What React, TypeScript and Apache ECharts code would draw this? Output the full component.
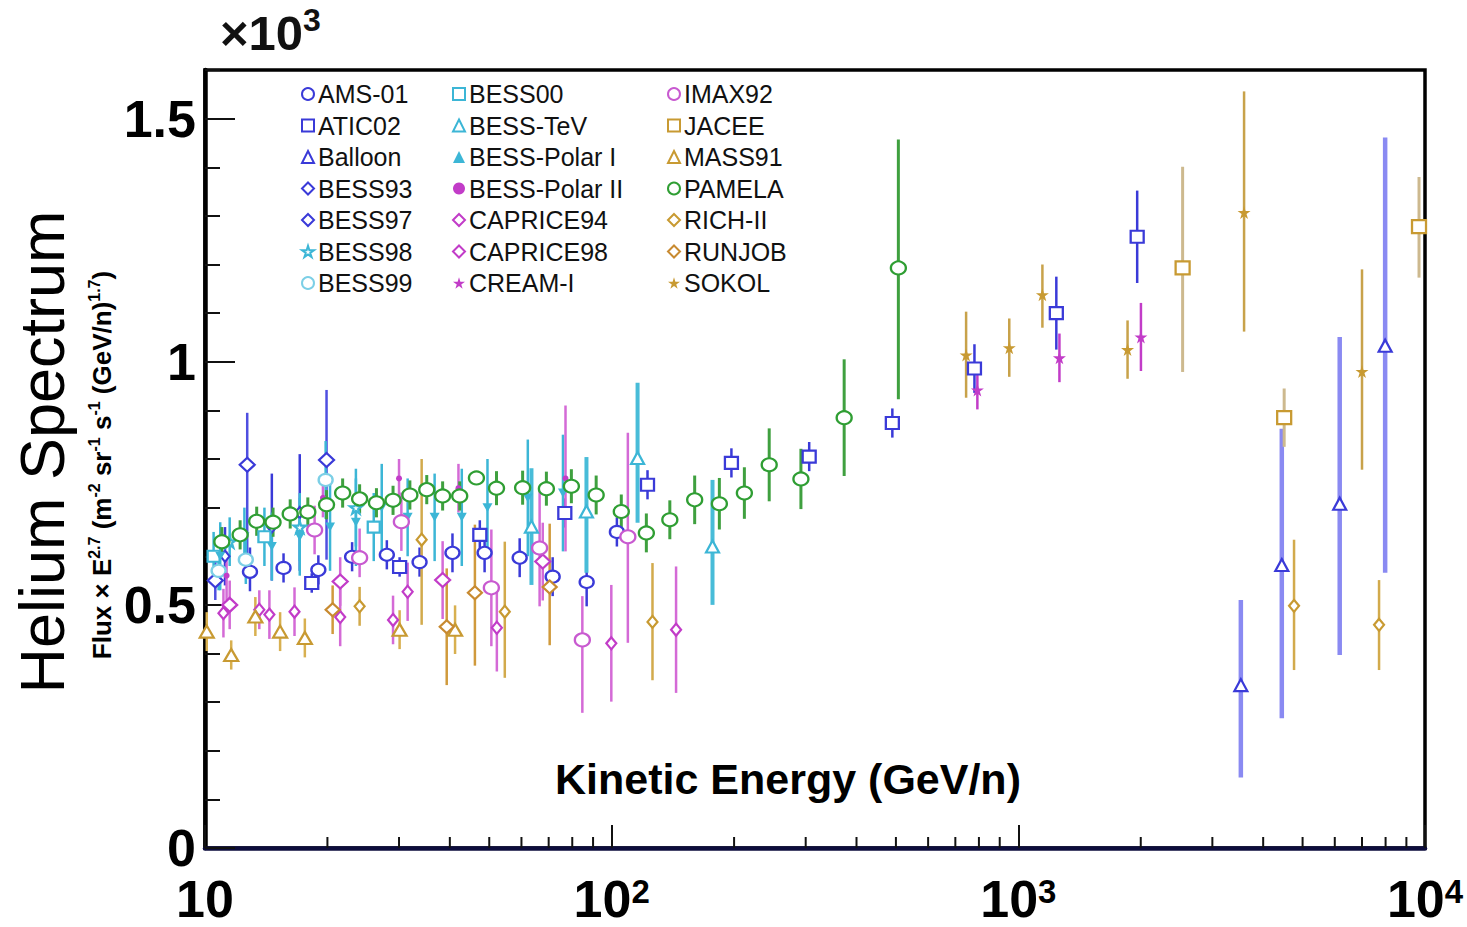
import React, { useEffect, useRef } from 'react';
import * as echarts from 'echarts';

// Each point: [kinetic energy (GeV/n), flux × E^2.7 (×10^3), error below, error above]
const AMS01 = [
  [12.9, 0.568, 0.04, 0.05], [15.6, 0.576, 0.03, 0.03], [19.0, 0.572, 0.03, 0.03],
  [23.0, 0.599, 0.03, 0.03], [28.0, 0.603, 0.03, 0.03], [33.7, 0.588, 0.03, 0.03],
  [40.6, 0.607, 0.04, 0.04], [48.7, 0.607, 0.04, 0.04], [59.4, 0.597, 0.04, 0.04],
  [71.6, 0.558, 0.04, 0.04], [86.8, 0.547, 0.05, 0.06], [103, 0.65, 0.03, 0.03],
];
const ATIC02 = [
  [18.3, 0.545, 0.02, 0.02], [30.1, 0.578, 0.02, 0.02], [47.4, 0.644, 0.03, 0.03],
  [76.7, 0.689, 0.03, 0.03], [122.5, 0.747, 0.03, 0.03], [197, 0.792, 0.03, 0.03],
  [306, 0.805, 0.03, 0.03], [490, 0.874, 0.03, 0.03], [780, 0.986, 0.05, 0.05],
  [1240, 1.10, 0.075, 0.075], [1960, 1.257, 0.095, 0.095],
];
const BALLOON = [
  [3525, 0.335, 0.19, 0.175], [4445, 0.582, 0.315, 0.28],
  [6170, 0.708, 0.311, 0.343], [7980, 1.033, 0.467, 0.428],
];
const BESS93 = [[11.2, 0.60, 0.06, 0.06], [14.6, 0.66, 0.11, 0.11], [17.1, 0.69, 0.12, 0.12]];
const BESS97 = [[10.6, 0.55, 0.04, 0.04], [12.7, 0.788, 0.23, 0.107], [19.9, 0.798, 0.205, 0.144]];
const BESS98 = [[11.5, 0.63, 0.05, 0.05], [17.1, 0.66, 0.07, 0.07], [23.5, 0.70, 0.08, 0.08]];
const BESS99 = [[10.8, 0.57, 0.04, 0.04], [12.6, 0.593, 0.05, 0.05], [19.8, 0.757, 0.08, 0.08]];
const BESS00 = [[10.5, 0.60, 0.05, 0.05], [14.0, 0.64, 0.06, 0.06], [26.0, 0.66, 0.07, 0.07]];
const BESSTEV = [
  [63.5, 0.661, 0.12, 0.12], [86.7, 0.692, 0.126, 0.112],
  [115.8, 0.802, 0.133, 0.155], [177, 0.62, 0.12, 0.137],
];
const BESSPOLAR1 = [
  [10.9, 0.60, 0.07, 0.07], [12.5, 0.64, 0.06, 0.06], [14.6, 0.62, 0.07, 0.07],
  [17.1, 0.64, 0.08, 0.08], [20.3, 0.66, 0.09, 0.09], [23.5, 0.67, 0.09, 0.09],
  [27.2, 0.70, 0.09, 0.09], [31.5, 0.68, 0.08, 0.08], [36.7, 0.68, 0.09, 0.09],
  [42.8, 0.68, 0.1, 0.1], [49.5, 0.70, 0.1, 0.1], [62.2, 0.72, 0.12, 0.12],
  [75.9, 0.73, 0.12, 0.12],
];
const BESSPOLAR2 = [
  [11.3, 0.56, 0.05, 0.05], [19.5, 0.72, 0.04, 0.04], [30.0, 0.76, 0.04, 0.04],
  [42.0, 0.74, 0.05, 0.05], [77.0, 0.76, 0.15, 0.15],
];
const CAPRICE94 = [
  [11.1, 0.483, 0.05, 0.05], [13.6, 0.49, 0.04, 0.04], [14.4, 0.48, 0.05, 0.05],
  [16.6, 0.486, 0.05, 0.05], [21.5, 0.475, 0.06, 0.06], [29.0, 0.469, 0.05, 0.05],
  [31.5, 0.527, 0.06, 0.06], [52.2, 0.453, 0.09, 0.09], [99.8, 0.421, 0.12, 0.12],
  [144, 0.449, 0.13, 0.13],
];
const CAPRICE98 = [
  [11.5, 0.50, 0.05, 0.05], [21.5, 0.548, 0.05, 0.05],
  [38.4, 0.551, 0.08, 0.08], [67.7, 0.589, 0.08, 0.08],
];
const CREAM1 = [[793, 0.942, 0.04, 0.04], [1262, 1.008, 0.05, 0.05], [2002, 1.051, 0.07, 0.07]];
const IMAX92 = [
  [18.6, 0.654, 0.05, 0.05], [24.0, 0.597, 0.04, 0.06], [30.4, 0.671, 0.06, 0.06],
  [50.6, 0.535, 0.12, 0.12], [66.5, 0.617, 0.12, 0.12], [84.7, 0.428, 0.15, 0.09],
  [109.6, 0.64, 0.218, 0.214],
];
const JACEE = [[2535, 1.193, 0.214, 0.208], [4505, 0.885, 0.06, 0.06], [9667, 1.278, 0.105, 0.102]];
const MASS91 = [
  [10.1, 0.445, 0.04, 0.04], [11.6, 0.397, 0.03, 0.03], [13.3, 0.476, 0.04, 0.04],
  [15.3, 0.445, 0.04, 0.04], [17.6, 0.432, 0.04, 0.04], [30.1, 0.449, 0.04, 0.04],
  [41.2, 0.449, 0.05, 0.05],
];
const PAMELA = [
  [11.0, 0.630, 0.03, 0.03], [12.2, 0.644, 0.03, 0.03], [13.4, 0.672, 0.03, 0.03],
  [14.7, 0.670, 0.03, 0.03], [16.2, 0.687, 0.03, 0.03], [17.9, 0.691, 0.03, 0.03],
  [19.9, 0.706, 0.03, 0.03], [21.8, 0.730, 0.03, 0.03], [24.0, 0.718, 0.03, 0.03],
  [26.4, 0.710, 0.03, 0.03], [29.0, 0.715, 0.03, 0.03], [31.9, 0.726, 0.03, 0.03],
  [35.1, 0.737, 0.03, 0.03], [38.4, 0.724, 0.03, 0.03], [42.3, 0.724, 0.03, 0.03],
  [46.5, 0.761, 0.01, 0.01], [52.1, 0.740, 0.035, 0.035], [60.4, 0.741, 0.035, 0.035],
  [69.1, 0.739, 0.035, 0.035], [79.6, 0.744, 0.035, 0.035], [91.6, 0.726, 0.04, 0.04],
  [105.6, 0.692, 0.035, 0.035], [121.7, 0.648, 0.04, 0.04], [139, 0.675, 0.04, 0.04],
  [160, 0.716, 0.05, 0.05], [184, 0.708, 0.053, 0.053], [212, 0.730, 0.053, 0.053],
  [244, 0.788, 0.075, 0.075], [292, 0.759, 0.062, 0.062], [373, 0.885, 0.12, 0.12],
  [507, 1.193, 0.27, 0.264],
];
const RICH2 = [
  [24.0, 0.497, 0.04, 0.04], [34.1, 0.634, 0.175, 0.166], [54.6, 0.486, 0.136, 0.144],
  [126, 0.465, 0.12, 0.121], [4764, 0.498, 0.132, 0.136], [7709, 0.459, 0.093, 0.092],
];
const RUNJOB = [
  [20.6, 0.49, 0.05, 0.05], [39.3, 0.455, 0.12, 0.12],
  [46.1, 0.525, 0.15, 0.14], [70.4, 0.537, 0.12, 0.13],
];
const SOKOL = [
  [744, 1.014, 0.088, 0.089], [950, 1.029, 0.06, 0.06], [1146, 1.138, 0.068, 0.062],
  [1856, 1.025, 0.06, 0.06], [3590, 1.307, 0.245, 0.249], [7000, 0.98, 0.202, 0.21],
];

const X_MINOR_TICKS = [20, 30, 40, 50, 60, 70, 80, 90, 200, 300, 400, 500, 600, 700, 800, 900,
  2000, 3000, 4000, 5000, 6000, 7000, 8000, 9000];
const Y_TICK_LABELS = ['0', '0.5', '1', '1.5'];

const LEGEND_COL1 = ['AMS-01', 'ATIC02', 'Balloon', 'BESS93', 'BESS97', 'BESS98', 'BESS99'];
const LEGEND_COL2 = ['BESS00', 'BESS-TeV', 'BESS-Polar I', 'BESS-Polar II', 'CAPRICE94', 'CAPRICE98', 'CREAM-I'];
const LEGEND_COL3 = ['IMAX92', 'JACEE', 'MASS91', 'PAMELA', 'RICH-II', 'RUNJOB', 'SOKOL'];

const STAR = 'path://M50,0 L61,35 L98,35 L68,57 L79,91 L50,70 L21,91 L32,57 L2,35 L39,35 Z';

const BLUE = '#3a3ad8';
const CYAN = '#3cb6d6';
const MAGENTA = '#c23cc8';
const PINK = '#d46ad6';
const GOLD = '#c89a32';
const GREEN = '#2f9e33';

type Style = {
  name: string; data: number[][]; symbol: string; size: number[]; color: string;
  bar: string; barWidth: number; filled?: boolean; rotate?: number;
};

const STYLES: Style[] = [
  { name: 'AMS-01', data: AMS01, symbol: 'circle', size: [14, 12], color: BLUE, bar: BLUE, barWidth: 2.5 },
  { name: 'ATIC02', data: ATIC02, symbol: 'rect', size: [13, 12], color: BLUE, bar: BLUE, barWidth: 2.5 },
  { name: 'Balloon', data: BALLOON, symbol: 'triangle', size: [13, 12], color: BLUE, bar: '#8a8af2', barWidth: 4.5 },
  { name: 'BESS93', data: BESS93, symbol: 'diamond', size: [9, 11], color: BLUE, bar: BLUE, barWidth: 2.5 },
  { name: 'BESS97', data: BESS97, symbol: 'diamond', size: [15, 14], color: BLUE, bar: '#4f4fe0', barWidth: 2.5 },
  { name: 'BESS98', data: BESS98, symbol: STAR, size: [12, 12], color: CYAN, bar: CYAN, barWidth: 2.5 },
  { name: 'BESS99', data: BESS99, symbol: 'circle', size: [14, 12], color: '#7ccfe6', bar: CYAN, barWidth: 2.5 },
  { name: 'BESS00', data: BESS00, symbol: 'rect', size: [12, 11], color: CYAN, bar: CYAN, barWidth: 2.5 },
  { name: 'BESS-TeV', data: BESSTEV, symbol: 'triangle', size: [13, 12], color: CYAN, bar: '#48bcd8', barWidth: 4 },
  { name: 'BESS-Polar I', data: BESSPOLAR1, symbol: 'triangle', size: [10, 9], color: CYAN, bar: CYAN, barWidth: 2.5, filled: true, rotate: 180 },
  { name: 'BESS-Polar II', data: BESSPOLAR2, symbol: 'circle', size: [6, 6], color: MAGENTA, bar: PINK, barWidth: 2.5, filled: true },
  { name: 'CAPRICE94', data: CAPRICE94, symbol: 'diamond', size: [10, 12], color: MAGENTA, bar: PINK, barWidth: 2.5 },
  { name: 'CAPRICE98', data: CAPRICE98, symbol: 'diamond', size: [15, 14], color: MAGENTA, bar: PINK, barWidth: 2.5 },
  { name: 'CREAM-I', data: CREAM1, symbol: STAR, size: [13, 13], color: MAGENTA, bar: MAGENTA, barWidth: 2.5, filled: true },
  { name: 'IMAX92', data: IMAX92, symbol: 'circle', size: [15, 13], color: '#c85ad0', bar: PINK, barWidth: 2.5 },
  { name: 'JACEE', data: JACEE, symbol: 'rect', size: [14, 13], color: GOLD, bar: '#cdb98e', barWidth: 3 },
  { name: 'MASS91', data: MASS91, symbol: 'triangle', size: [14, 12], color: GOLD, bar: '#d8b050', barWidth: 2.5 },
  { name: 'PAMELA', data: PAMELA, symbol: 'circle', size: [15, 13], color: GREEN, bar: '#3fa03f', barWidth: 3 },
  { name: 'RICH-II', data: RICH2, symbol: 'diamond', size: [10, 12], color: GOLD, bar: '#d2aa4c', barWidth: 2.5 },
  { name: 'RUNJOB', data: RUNJOB, symbol: 'diamond', size: [14, 13], color: '#c88a30', bar: '#d09a3c', barWidth: 2.5 },
  { name: 'SOKOL', data: SOKOL, symbol: STAR, size: [13, 13], color: GOLD, bar: '#c8a24a', barWidth: 2.5, filled: true },
];

const FONT = "'Liberation Sans', Arial, Helvetica, sans-serif";

function errorBars(color: string, width: number) {
  return (params: any, api: any) => {
    const x = api.value(0);
    const lo = api.coord([x, api.value(1)]);
    const hi = api.coord([x, api.value(2)]);
    return {
      type: 'line',
      shape: { x1: lo[0], y1: lo[1], x2: hi[0], y2: hi[1] },
      style: { stroke: color, lineWidth: width },
    };
  };
}

function legendBlock(names: string[], left: number) {
  return {
    show: true,
    orient: 'vertical',
    left,
    top: 81,
    padding: 0,
    itemGap: 5.5,
    itemWidth: 12,
    itemHeight: 12,
    selectedMode: false,
    data: names,
    textStyle: { fontFamily: FONT, fontSize: 25, color: '#111', lineHeight: 26, padding: [0, 0, 0, -1] },
  };
}

export default function App() {
  const ref = useRef<HTMLDivElement>(null);

  useEffect(() => {
    if (!ref.current) return;
    const chart = echarts.init(ref.current, undefined, { renderer: 'svg' });

    const series: any[] = [];
    STYLES.forEach((s) => {
      series.push({
        type: 'custom',
        coordinateSystem: 'cartesian2d',
        renderItem: errorBars(s.bar, s.barWidth),
        data: s.data.map((d) => [d[0], d[1] - d[2], d[1] + d[3]]),
        encode: { x: 0, y: [1, 2] },
        clip: true,
        silent: true,
        z: 2,
      });
    });
    STYLES.forEach((s) => {
      series.push({
        type: 'scatter',
        name: s.name,
        data: s.data.map((d) => [d[0], d[1]]),
        symbol: s.symbol,
        symbolSize: s.size,
        symbolRotate: s.rotate || 0,
        itemStyle: {
          color: s.filled ? s.color : '#ffffff',
          borderColor: s.color,
          borderWidth: s.filled ? 0 : 2.2,
          opacity: 1,
        },
        z: 3,
      });
    });
    // minor decade ticks along the bottom edge
    series.push({
      type: 'custom',
      coordinateSystem: 'cartesian2d',
      renderItem: (params: any, api: any) => {
        const p = api.coord([api.value(0), 0]);
        return {
          type: 'line',
          shape: { x1: p[0], y1: p[1], x2: p[0], y2: p[1] - 11 },
          style: { stroke: '#111', lineWidth: 2 },
        };
      },
      data: X_MINOR_TICKS.map((v) => [v, 0]),
      encode: { x: 0, y: 1 },
      clip: false,
      silent: true,
      z: 4,
    });

    chart.setOption({
      animation: false,
      backgroundColor: '#ffffff',
      grid: {
        left: 205, right: 42, top: 70, bottom: 79,
        show: true, borderColor: '#000', borderWidth: 3.5, backgroundColor: 'transparent',
      },
      legend: [legendBlock(LEGEND_COL1, 301), legendBlock(LEGEND_COL2, 452), legendBlock(LEGEND_COL3, 667)],
      xAxis: {
        type: 'log',
        logBase: 10,
        min: 10,
        max: 10000,
        splitNumber: 3,
        axisLine: { show: true, lineStyle: { color: '#0c0c3c', width: 4.5 } },
        axisTick: { show: true, inside: true, length: 23, lineStyle: { color: '#111', width: 2 } },
        minorTick: { show: false },
        splitLine: { show: false },
        axisLabel: {
          margin: 27,
          formatter: (v: number) => {
            const p = Math.round(Math.log10(v));
            return p === 1 ? '{b|10}' : `{b|10}{s|${p}}`;
          },
          rich: {
            b: { fontFamily: FONT, fontWeight: 'bold', fontSize: 52, lineHeight: 48, color: '#000' },
            s: { fontFamily: FONT, fontWeight: 'bold', fontSize: 33, lineHeight: 22, verticalAlign: 'top', color: '#000' },
          },
        },
      },
      yAxis: [
        {
          type: 'value',
          min: 0,
          max: 1.6,
          interval: 0.1,
          axisLine: { show: true, lineStyle: { color: '#000', width: 4.5 } },
          axisTick: { show: true, inside: true, length: 15, lineStyle: { color: '#111', width: 2 } },
          axisLabel: { show: false },
          splitLine: { show: false },
        },
        {
          type: 'value',
          position: 'left',
          min: 0,
          max: 1.6,
          interval: 0.5,
          axisLine: { show: false },
          axisTick: { show: true, inside: true, length: 30, lineStyle: { color: '#111', width: 2 } },
          splitLine: { show: false },
          axisLabel: {
            margin: 9,
            showMaxLabel: false,
            formatter: (v: number) => {
              const i = Math.round(v / 0.5);
              return Math.abs(v - i * 0.5) < 1e-6 && i < Y_TICK_LABELS.length ? Y_TICK_LABELS[i] : '';
            },
            fontFamily: FONT,
            fontWeight: 'bold',
            fontSize: 52,
            color: '#000',
          },
        },
      ],
      graphic: [
        {
          type: 'text',
          left: 220,
          top: 4,
          style: {
            text: '{m|×10}{s|3}',
            rich: {
              m: { fontFamily: FONT, fontSize: 49, fontWeight: 'bold', lineHeight: 58, fill: '#111' },
              s: { fontFamily: FONT, fontSize: 32, fontWeight: 'bold', lineHeight: 28, verticalAlign: 'top', fill: '#111' },
            },
          },
        },
        {
          type: 'text',
          x: 788,
          y: 779,
          style: {
            text: 'Kinetic Energy (GeV/n)',
            font: `bold 43px ${FONT}`,
            fill: '#000',
            textAlign: 'center',
            textVerticalAlign: 'middle',
          },
        },
        {
          type: 'text',
          x: 42,
          y: 452,
          rotation: Math.PI / 2,
          style: {
            text: 'Helium Spectrum',
            font: `63px ${FONT}`,
            fill: '#000',
            textAlign: 'center',
            textVerticalAlign: 'middle',
          },
        },
        {
          type: 'text',
          x: 102,
          y: 465,
          rotation: Math.PI / 2,
          style: {
            text: '{n|Flux × E}{s|2.7}{n| (m}{s|-2}{n| sr}{s|-1}{n| s}{s|-1}{n| (GeV/n)}{s|1.7}{n|)}',
            textAlign: 'center',
            textVerticalAlign: 'middle',
            rich: {
              n: { fontFamily: FONT, fontSize: 26, lineHeight: 32, fontWeight: 'bold', fill: '#000' },
              s: { fontFamily: FONT, fontSize: 16, lineHeight: 18, verticalAlign: 'top', fontWeight: 'bold', fill: '#000' },
            },
          },
        },
      ],
      series,
    });

    return () => chart.dispose();
  }, []);

  return (
    <div
      ref={ref}
      style={{ position: 'fixed', left: 0, top: 0, width: 1467, height: 927, background: '#fff' }}
    />
  );
}
